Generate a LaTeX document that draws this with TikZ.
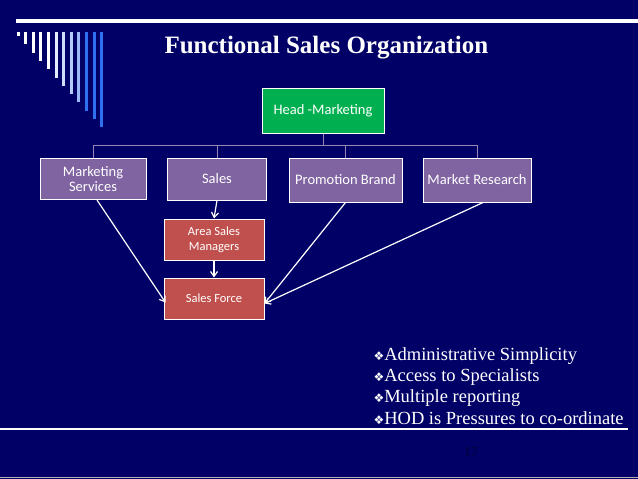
\documentclass[tikz,border=0pt]{standalone}
\usepackage{fontspec}
\setmainfont{Liberation Serif}
\newfontfamily\boxfont{Carlito}
\newfontfamily\symfont{DejaVu Sans}
\usetikzlibrary{arrows.meta}
\usetikzlibrary{calc}
\definecolor{navy}{HTML}{000066}
\definecolor{headgreen}{HTML}{00B050}
\definecolor{unitpurple}{HTML}{8064A2}
\definecolor{forcered}{HTML}{C0504D}
\definecolor{barblue}{HTML}{3070F0}
\tikzset{
  unit/.style={draw=white,line width=1pt,fill=unitpurple,text=white,font=\boxfont\fontsize{14.5}{15.5}\selectfont,align=center,inner sep=0pt},
  field/.style={unit,fill=forcered,font=\boxfont\fontsize{12.5}{15}\selectfont},
  link/.style={draw=unitpurple!80!white,line width=1pt},
  flow/.style={draw=white,line width=1.2pt,-{Straight Barb[length=5pt,width=7pt]}}
}
\newcommand{\bul}{{\symfont\fontsize{12}{12}\selectfont\char"2756}}
\begin{document}
\begin{tikzpicture}[x=1pt,y=-1pt]
\fill[navy] (0,0) rectangle (638,479);
\useasboundingbox (0,0) rectangle (638,479);
% corner bars
\foreach \i in {0,...,11}{
  \pgfmathtruncatemacro{\mix}{\i<5 ? 100 : 100-(\i-4)*12}
  \ifnum\i>8 \colorlet{barc}{barblue}\else\colorlet{barc}{white!\mix!barblue}\fi
  \draw[barc,line width=3pt] (18+\i*7.6,32) -- (18+\i*7.6,36+\i*8.3);
}
\draw[white,line width=4pt] (16,21) -- (638,21);
\draw[white,line width=1.3pt] (0,429) -- (628,429);
\draw[gray!60,line width=1pt] (0,477) -- (638,477);
\node[text=white,font=\bfseries\fontsize{25}{27}\selectfont,anchor=west] (title) at (161,48) {Functional Sales Organization};
% chart
\node[unit,fill=headgreen,minimum width=122pt,minimum height=45pt] (head) at (323,110.5) {Head -Marketing};
\node[unit,minimum width=106pt,minimum height=41pt] (msvc) at (93,179) {Marketing\\Services};
\node[unit,minimum width=99pt,minimum height=42pt] (sales) at (217,179) {Sales};
\node[unit,minimum width=113pt,minimum height=44pt] (promo) at (345.5,180) {Promotion Brand};
\node[unit,minimum width=108pt,minimum height=44pt] (mres) at (477,180) {Market Research};
\node[field,minimum width=100pt,minimum height=41pt] (asm) at (214,239.5) {Area Sales\\Managers};
\node[field,minimum width=100pt,minimum height=41pt] (force) at (214,298.5) {Sales Force};
\coordinate (bus) at (323,145);
\draw[link] (head.south) -- (bus);
\foreach \n in {msvc,sales,promo,mres}
  \draw[link] (\n.north) -- (\n.north |- bus) -- (bus);
\draw[flow] (sales.south) -- (asm.north);
\draw[flow] (asm.south) -- (force.north);
\draw[flow] ($(msvc.south)+(4,0)$) -- ($(force.west)+(2,4)$);
\draw[flow] (promo.south) -- ($(force.east)+(0,5)$);
\draw[flow] ($(mres.south)+(6,0)$) -- ($(force.east)+(0,5)$);
% notes
\node[text=white,font=\fontsize{18.5}{21.3}\selectfont,align=left,anchor=north west] (notes) at (370,344)
  {\bul Administrative Simplicity\\\bul Access to Specialists\\\bul Multiple reporting\\\bul HOD is Pressures to co-ordinate};
\node[text=navy!70!black,font=\bfseries\fontsize{14}{15}\selectfont] (page) at (471,452) {17};
\end{tikzpicture}
\end{document}
